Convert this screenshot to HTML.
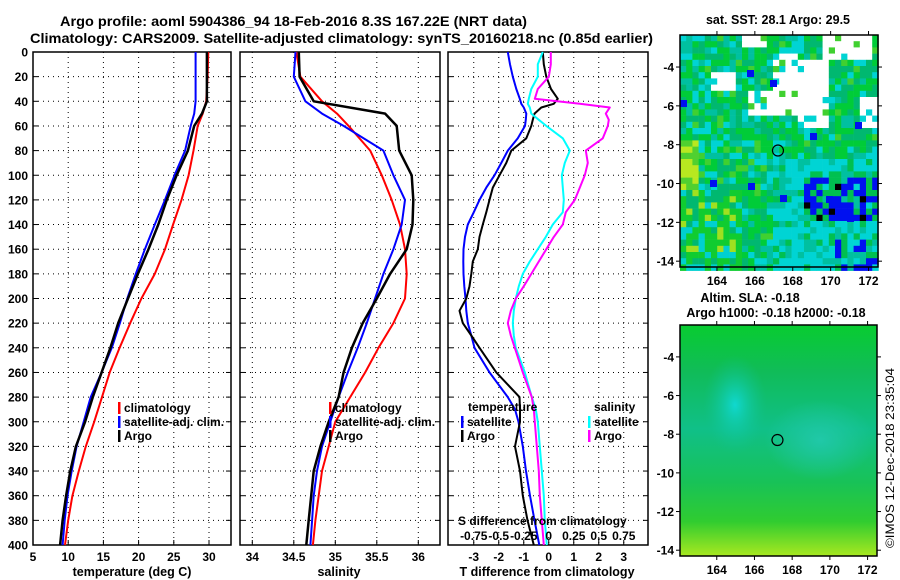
<!DOCTYPE html>
<html><head><meta charset="utf-8">
<style>
html,body{margin:0;padding:0;background:#fff;}
svg{display:block;font-family:"Liberation Sans",sans-serif;font-weight:bold;}
</style></head>
<body>
<svg id="fig" width="900" height="580" viewBox="0 0 900 580" xmlns="http://www.w3.org/2000/svg">
<text x="60" y="26" font-size="14" textLength="467" lengthAdjust="spacingAndGlyphs">Argo profile: aoml 5904386_94 18-Feb-2016 8.3S 167.22E (NRT data)</text>
<text x="30" y="43" font-size="14" textLength="623" lengthAdjust="spacingAndGlyphs">Climatology: CARS2009. Satellite-adjusted climatology: synTS_20160218.nc (0.85d earlier)</text>
<g id="panels"></g>
<g id="maps"></g>
<text transform="translate(894,548) rotate(-90)" font-size="12" font-weight="normal" textLength="180" lengthAdjust="spacingAndGlyphs">©IMOS 12-Dec-2018 23:35:04</text>
</svg>
<script>
// ---------- data ----------
const depths = [0,20,40,50,60,80,100,120,140,160,180,200,220,240,260,280,300,320,340,360,380,400];
const tempClim = [29.9,29.8,29.6,29.1,28.4,27.8,27.1,26.1,24.9,23.75,22.3,20.4,18.8,17.3,15.9,14.8,13.7,12.5,11.5,10.6,10.0,9.55];
const tempSat  = [28.1,28.1,28.1,27.9,27.4,26.6,25.1,23.75,22.3,20.9,19.6,18.4,17.35,16.2,14.75,13.2,12.2,11.2,10.5,9.9,9.5,9.2];
const tempArgo = [29.7,29.7,29.7,29.0,27.9,27.0,25.4,24.0,22.8,21.4,19.9,18.5,17.1,16.0,14.75,13.5,12.4,11.1,10.3,9.7,9.2,8.85];
const salClim = [34.53,34.58,34.84,35.02,35.16,35.42,35.56,35.68,35.78,35.84,35.86,35.84,35.7,35.52,35.36,35.18,35.0,34.92,34.84,34.8,34.76,34.73];
const salSat  = [34.52,34.5,34.64,34.84,35.1,35.58,35.7,35.84,35.8,35.7,35.58,35.48,35.38,35.27,35.15,35.04,34.94,34.84,34.78,34.74,34.72,34.70];
const salArgo = [34.56,34.57,34.74,35.6,35.74,35.77,35.92,35.94,35.93,35.86,35.66,35.5,35.33,35.2,35.1,35.04,34.92,34.82,34.74,34.71,34.68,34.65];
const dDepths = [0,10,20,30,38,42,45,50,55,60,70,80,90,100,110,120,130,140,150,160,170,180,190,200,210,220,230,240,260,280,290,300,320,340,360,380,400];
const dTSat  = [-1.64,-1.55,-1.44,-1.3,-1.16,-1.1,-1.0,-0.9,-0.92,-0.95,-1.24,-1.64,-1.9,-2.17,-2.5,-2.77,-3.0,-3.24,-3.35,-3.41,-3.42,-3.41,-3.38,-3.33,-3.3,-3.24,-3.1,-2.97,-2.37,-1.64,-1.35,-1.21,-1.04,-0.91,-0.75,-0.57,-0.38];
const dTArgo = [-0.24,-0.2,-0.1,0.09,0.36,0.2,-0.3,-0.57,-0.64,-0.7,-0.9,-1.5,-1.7,-1.97,-2.24,-2.37,-2.5,-2.64,-2.77,-2.84,-3.04,-3.1,-3.17,-3.3,-3.57,-3.44,-3.1,-2.77,-2.1,-1.17,-1.15,-1.15,-1.35,-1.15,-1.04,-0.85,-0.6];
const dSSat  = [-0.06,-0.11,-0.11,-0.175,-0.2,-0.21,-0.19,-0.175,-0.1,-0.025,0.14,0.21,0.16,0.13,0.14,0.15,0.14,0.04,-0.03,-0.11,-0.19,-0.26,-0.3,-0.33,-0.35,-0.36,-0.35,-0.33,-0.24,-0.17,-0.13,-0.11,-0.09,-0.07,-0.05,-0.04,-0.02];
const dSArgo = [0.02,0.02,0,-0.11,-0.14,0.31,0.61,0.57,0.6,0.59,0.54,0.37,0.39,0.36,0.31,0.26,0.17,0.14,0.05,-0.025,-0.1,-0.175,-0.25,-0.33,-0.38,-0.41,-0.38,-0.34,-0.26,-0.17,-0.15,-0.14,-0.12,-0.1,-0.09,-0.07,-0.05];
const depthTicks = [0,20,40,60,80,100,120,140,160,180,200,220,240,260,280,300,320,340,360,380,400];
const tempTicks = [5,10,15,20,25,30];
const salTicks = [34,34.5,35,35.5,36];
const salTickLabels = ['34','34.5','35','35.5','36'];
const tdTicks = [-3,-2,-1,0,1,2,3];
const sdTickLabels = ['-0.75','-0.5','-0.25','0','0.25','0.5','0.75'];
const mapLonTicks = [164,166,168,170,172];
const mapLatTicks = [-4,-6,-8,-10,-12,-14];

const NS='http://www.w3.org/2000/svg';
function mk(tag, attrs, parent){const e=document.createElementNS(NS,tag);for(const k in attrs)e.setAttribute(k,attrs[k]);parent.appendChild(e);return e;}
const panels=document.getElementById('panels');
const yOf = d => 52 + d*(493/400);

function panel(name, x0, x1, vmin, vmax, ticks, labels, xlabel, xlabelX){
  const g=mk('g',{},panels);
  
  
  const sx = v => x0 + (v-vmin)/(vmax-vmin)*(x1-x0);
  ticks.forEach(t=>{const x=sx(t); if(x>x0+1&&x<x1-1){const l=mk('line',{x1:x,x2:x,y1:52,y2:545,stroke:'#000','stroke-dasharray':'1,4','stroke-width':1},g);}
    mk('line',{x1:x,x2:x,y1:545,y2:540,stroke:'#000'},g);
    const tx=mk('text',{x:x,y:561,'font-size':12,'text-anchor':'middle'},g);tx.textContent=labels?labels[ticks.indexOf(t)]:String(t);
    
    
  });
  depthTicks.forEach(d=>{const y=yOf(d);
    if(d>0&&d<400){const l=mk('line',{x1:x0,x2:x1,y1:y,y2:y,stroke:'#000','stroke-dasharray':'1,4'},g);}
    mk('line',{x1:x0,x2:x0+5,y1:y,y2:y,stroke:'#000'},g);mk('line',{x1:x1,x2:x1-5,y1:y,y2:y,stroke:'#000'},g);
  });
  const fr=mk('rect',{x:x0,y:52,width:x1-x0,height:493,fill:'none',stroke:'#000','stroke-width':1.5},g);
  
  
  const xl=mk('text',{x:xlabelX,y:576,'font-size':12.5,'text-anchor':'middle'},g);xl.textContent=xlabel;
  
  
  return {g,sx};
}
function line(p, vals, ds, color, name, w){
  const pts=vals.map((v,i)=>p.sx(v).toFixed(1)+','+yOf(ds[i]).toFixed(1)).join(' ');
  const pl=mk('polyline',{points:pts,fill:'none',stroke:color,'stroke-width':w||2,'stroke-linejoin':'round'},p.g);
  
  
}
function legend(g,x,y,color,label,name){
  mk('rect',{x:x,y:y-10,width:2.5,height:12,fill:color},g);
  const t=mk('text',{x:x+6,y:y,'font-size':12},g);t.textContent=label;
  
  
}
depthTicks.forEach(d=>{const t=mk('text',{x:28,y:yOf(d)+4.5,'font-size':12,'text-anchor':'end'},panels);t.textContent=d;
  
  });

const p1=panel('temperature-panel',33,231,5,5+198/7.04,tempTicks,null,'temperature (deg C)',132);
line(p1,tempClim,depths,'#f00','temperature-climatology-line');
line(p1,tempSat,depths,'#00f','temperature-satellite-line');
line(p1,tempArgo,depths,'#000','temperature-argo-line',2.5);
legend(p1.g,118,412,'#f00','climatology','legend-climatology');
legend(p1.g,118,426,'#00f','satellite-adj. clim.','legend-satellite');
legend(p1.g,118,440,'#000','Argo','legend-argo');

const p2=panel('salinity-panel',240,440,34-(252.3-240)/83,34+(440-252.3)/83,salTicks,salTickLabels,'salinity',339);
line(p2,salClim,depths,'#f00','salinity-climatology-line');
line(p2,salSat,depths,'#00f','salinity-satellite-line');
line(p2,salArgo,depths,'#000','salinity-argo-line',2.5);
legend(p2.g,329,412,'#f00','climatology','legend-climatology');
legend(p2.g,329,426,'#00f','satellite-adj. clim.','legend-satellite');
legend(p2.g,329,440,'#000','Argo','legend-argo');

const p3=panel('difference-panel',448,648,-4.03,3.97,tdTicks,null,'T difference from climatology',547);
line(p3,dTSat,dDepths,'#00f','t-diff-satellite-line');
line(p3,dTArgo,dDepths,'#000','t-diff-argo-line');
line(p3,dSSat.map(v=>v*4),dDepths,'#0ff','s-diff-satellite-line');
line(p3,dSArgo.map(v=>v*4),dDepths,'#f0f','s-diff-argo-line');
{const t=mk('text',{x:468,y:411,'font-size':12},p3.g);t.textContent='temperature';}
legend(p3.g,461,426,'#00f','satellite','legend-t-satellite');
legend(p3.g,461,440,'#000','Argo','legend-t-argo');
{const t=mk('text',{x:594,y:411,'font-size':12},p3.g);t.textContent='salinity';}
legend(p3.g,588,426,'#0ff','satellite','legend-s-satellite');
legend(p3.g,588,440,'#f0f','Argo','legend-s-argo');
{const t=mk('text',{x:458,y:525,'font-size':12},p3.g);t.textContent='S difference from climatology';}
tdTicks.forEach((v,i)=>{const t=mk('text',{x:p3.sx(v),y:540,'font-size':12,'text-anchor':'middle'},p3.g);t.textContent=sdTickLabels[i];
  
  });

// ---------- maps ----------
const maps=document.getElementById('maps');
function mapFrame(name,x0,y0,x1,y1,lonL,lonR,latT,latB){
  const g=mk('g',{},maps);
  
  
  const sx=v=>x0+(v-lonL)/(lonR-lonL)*(x1-x0), sy=v=>y0+(v-latT)/(latB-latT)*(y1-y0);
  return {g,sx,sy,x0,y0,x1,y1};
}
function mapAxes(m,labelY){
  const fr=mk('rect',{x:m.x0,y:m.y0,width:m.x1-m.x0,height:m.y1-m.y0,fill:'none',stroke:'#000','stroke-width':1.5},m.g);
  
  
  mapLonTicks.forEach(v=>{const x=m.sx(v);mk('line',{x1:x,x2:x,y1:m.y1,y2:m.y1+4,stroke:'#000'},m.g);mk('line',{x1:x,x2:x,y1:m.y0,y2:m.y0-4,stroke:'#000'},m.g);
    const t=mk('text',{x:x,y:labelY,'font-size':12,'text-anchor':'middle'},m.g);t.textContent=v;
    
    });
  mapLatTicks.forEach(v=>{const y=m.sy(v);mk('line',{x1:m.x0,x2:m.x0-4,y1:y,y2:y,stroke:'#000'},m.g);mk('line',{x1:m.x1,x2:m.x1+4,y1:y,y2:y,stroke:'#000'},m.g);
    const t=mk('text',{x:m.x0-6,y:y+4.5,'font-size':12,'text-anchor':'end'},m.g);t.textContent=v;
    
    });
  const c=mk('circle',{cx:m.sx(167.22),cy:m.sy(-8.3),r:5.5,fill:'none',stroke:'#000','stroke-width':1.2},m.g);
  
  
}
const mt=mapFrame('sst-map',680,35,878,267,162.05,172.5,-2.35,-14.3);
{
  const inR=(x,y,a,b,c,d)=>x>=a&&x<c&&y>=b&&y<d;
  const cs=6.2;
  const whites=[[742,37,765,50],[750,88,800,113],[775,55,798,108],[800,62,830,125],[823,37,875,62],[858,95,877,125],[708,75,735,88]];
  for(let y=35;y<267;y+=cs){for(let x=680;x<878;x+=cs){
    const h=((Math.floor(x)*73856093)^(Math.floor(y)*19349663))>>>0; const r=(h%97)/97;
    let col;
    const cx=x+cs/2, cy=y+cs/2;
    if(whites.some(w=>inR(cx,cy,w[0],w[1],w[2],w[3])) && r<0.85) col='#fff';
    else if(cx>805&&cy>178&&cy<222&&r<0.5) col= r<0.04?'#000':'#0010f0';
    else if(cx>838&&cy>238&&r<0.3) col='#0010f0';
    else if(cx>770&&cy>160) col= r<0.55?'#00d4d4':(r<0.8?'#00c0a0':'#00c050');
    else if(cx<700&&cy>143&&cy<190) col= r<0.5?'#b8e820':'#50d030';
    else if(cx<745&&cy>190) col= r<0.5?'#10cc30':(r<0.62?'#a0e020':(r<0.82?'#00b870':'#00d0d0'));
    else col= r<0.3?'#00b870':(r<0.62?'#00cc38':(r<0.8?'#00c0a0':(r<0.93?'#00d4d4':'#40d030')));
    mk('rect',{x:x,y:y,width:cs+0.3,height:cs+0.3,fill:col},mt.g);
  }}
  [[747,70],[770,80],[680,100],[826,196],[847,215],[810,133],[855,122],[780,195],[710,180],[748,183]].forEach(p=>mk('rect',{x:p[0],y:p[1],width:7,height:7,fill:'#0010f0'},mt.g));
}
mapAxes(mt,285);
{const t=mk('text',{x:778,y:24,'font-size':12.5,'text-anchor':'middle'},mt.g);t.textContent='sat. SST: 28.1 Argo: 29.5';}

const mb=mapFrame('sla-map',680,325,877,556,162.05,172.5,-2.35,-14.3);
{
  const defs=mk('defs',{},mb.g);
  const lg=mk('linearGradient',{id:'slaBase',x1:0,y1:0,x2:0,y2:1},defs);
  [[0,'#08cc30'],[0.2,'#10bc58'],[0.45,'#10c088'],[0.68,'#18c258'],[0.85,'#30cc30'],[1,'#a8e820']].forEach(s=>mk('stop',{offset:s[0],'stop-color':s[1]},lg));
  const rg=mk('radialGradient',{id:'slaBlob'},defs);
  mk('stop',{offset:0,'stop-color':'#10d8d0'},rg);mk('stop',{offset:1,'stop-color':'#10c090','stop-opacity':0},rg);
  const rg2=mk('radialGradient',{id:'slaBlob2'},defs);
  mk('stop',{offset:0,'stop-color':'#20c8a8'},rg2);mk('stop',{offset:1,'stop-color':'#20c8a8','stop-opacity':0},rg2);
  const bg=mk('rect',{x:680,y:325,width:197,height:231,fill:'url(#slaBase)'},mb.g);
  
  
  mk('ellipse',{cx:735,cy:405,rx:32,ry:50,fill:'url(#slaBlob)'},mb.g);
  mk('ellipse',{cx:820,cy:440,rx:55,ry:40,fill:'url(#slaBlob2)'},mb.g);
}
mapAxes(mb,574);
{const t=mk('text',{x:750,y:302,'font-size':12.5,'text-anchor':'middle'},mb.g);t.textContent='Altim. SLA: -0.18';
 const t2=mk('text',{x:776,y:317,'font-size':12.5,'text-anchor':'middle'},mb.g);t2.textContent='Argo h1000: -0.18 h2000: -0.18';}
</script>
</body></html>
